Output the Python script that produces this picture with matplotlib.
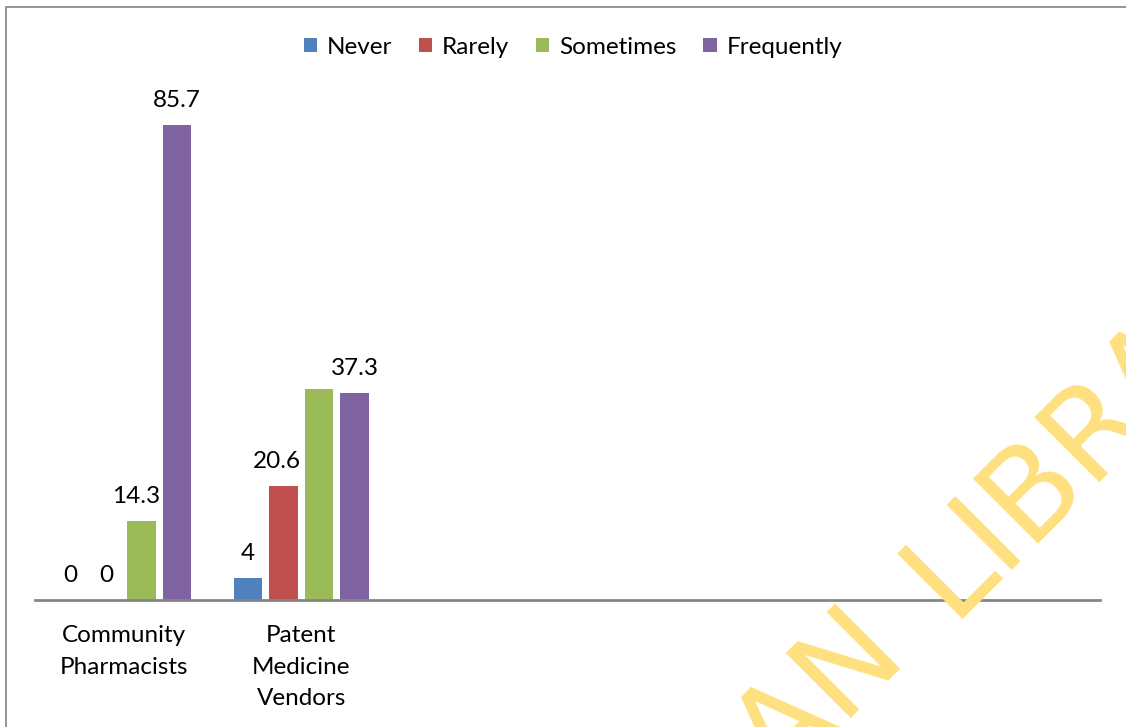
import matplotlib
matplotlib.use("Agg")
import matplotlib.pyplot as plt
import numpy as np
from matplotlib.patches import Patch, Rectangle

# survey responses (%) by respondent group
categories = ["Community\nPharmacists", "Patent\nMedicine\nVendors", "", "", "", ""]
series = ["Never", "Rarely", "Sometimes", "Frequently"]
never = [0, 4]
rarely = [0, 20.6]
sometimes = [14.3, 38.1]
frequently = [85.7, 37.3]
colors = ["#4F81BD", "#C0504D", "#9BBB59", "#8064A2"]

# which value labels are shown (the PMV "Sometimes" label is hidden)
show_label = [
    [True, True],
    [True, True],
    [True, False],
    [True, True],
]
# small sideways nudges of the labels, in points
label_dx = [
    [0, 0],
    [0, -5],
    [-4, 0],
    [0, 0],
]

plt.rcParams["font.family"] = ["Lato", "DejaVu Sans"]
fs = 17.5

W, H = 1126, 727
fig = plt.figure(figsize=(W / 100, H / 100), dpi=100)

# chart frame, cut off at the right and bottom
fig.patches.append(Rectangle((6 / W, -0.1), 1.2, 1 - 7 / H + 0.1,
                             transform=fig.transFigure, fill=False,
                             edgecolor="#8C8C8C", linewidth=1.3, zorder=0))

ax = fig.add_axes([35 / W, (H - 600) / H, 1065 / W, 554.3 / H])
ax.set_xlim(0, len(categories))
ax.set_ylim(0, 100)

values = [never, rarely, sometimes, frequently]
step = 0.2
width = 0.163
for i, (name, vals, c) in enumerate(zip(series, values, colors)):
    x = np.arange(len(vals)) + 0.5 + (i - 1.5) * step
    bars = ax.bar(x, vals, width=width, color=c, label=name, zorder=2)
    for j, (b, v) in enumerate(zip(bars, vals)):
        if not show_label[i][j]:
            continue
        ax.annotate(f"{v:g}", (b.get_x() + b.get_width() / 2, v),
                    xytext=(label_dx[i][j], 10), textcoords="offset points",
                    ha="center", va="bottom", fontsize=fs, color="black")

for s in ["top", "right", "left"]:
    ax.spines[s].set_visible(False)
ax.spines["bottom"].set_color("#868686")
ax.spines["bottom"].set_linewidth(2)
ax.set_yticks([])
ax.set_xticks(np.arange(len(categories)) + 0.5)
ax.set_xticklabels(categories, fontsize=fs, linespacing=1.62, va="top")
ax.tick_params(axis="x", length=0, pad=18)

handles = [Patch(facecolor=c, edgecolor="none") for c in colors]
fig.legend(handles, series, loc="center", bbox_to_anchor=(573 / W, 1 - 47 / H),
           ncol=4, frameon=False, fontsize=fs, handlelength=0.55,
           handleheight=0.55, handletextpad=0.4, columnspacing=1.1)

# library watermark
wm = dict(color="#FFE080", fontsize=91, rotation=45, rotation_mode="anchor",
          va="baseline", zorder=10, family="DejaVu Sans",
          transform=fig.transFigure)
fig.text(910 / W, 1 - 660 / H, "UNIVERSITY OF IBADAN", ha="right", **wm)
fig.text(951 / W, 1 - 619 / H, "LIBRARY", ha="left", **wm)

fig.savefig("out.png", dpi=100)
